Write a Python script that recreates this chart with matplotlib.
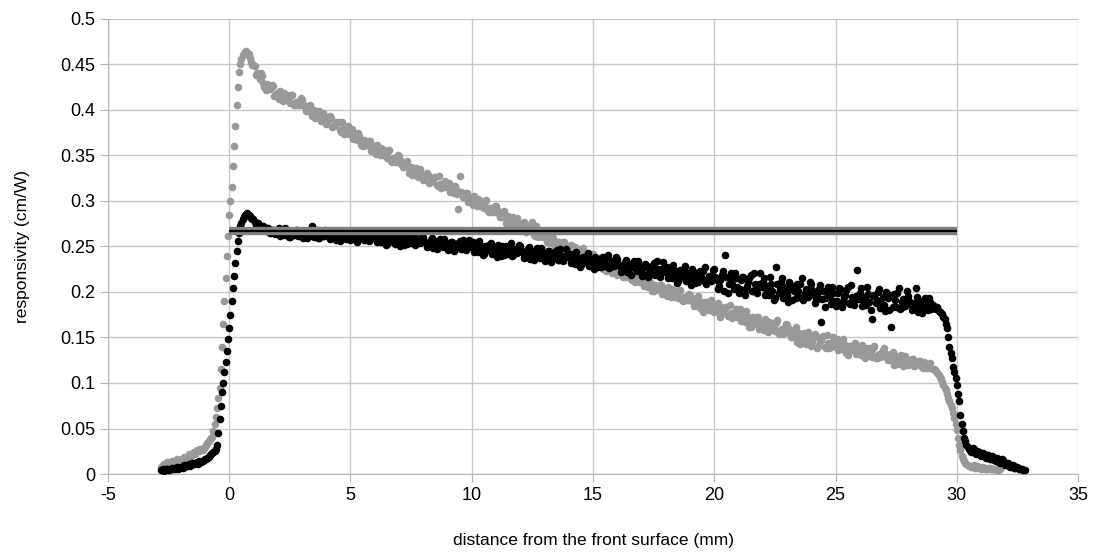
import numpy as np
import matplotlib
matplotlib.use("Agg")
import matplotlib.pyplot as plt

plt.rcParams['font.family'] = ['Liberation Sans', 'DejaVu Sans']

# two scans per sample, every 0.1 mm; the second scan is shifted by 0.05 mm
step = 0.1
scan1_start = -2.8
scan2_start = -2.75

# sample 1 (gray)
gray_scan1 = [
    0.008, 0.011, 0.009, 0.012, 0.010, 0.013, 0.012, 0.014,
    0.016, 0.015, 0.018, 0.020, 0.019, 0.023, 0.022, 0.025, 0.027, 0.026,
    0.030, 0.034, 0.038, 0.041, 0.055, 0.072, 0.095, 0.140, 0.190, 0.240,
    0.285, 0.315, 0.360, 0.405, 0.442, 0.456, 0.462, 0.465, 0.461, 0.453,
    0.449, 0.438, 0.440, 0.441, 0.430, 0.422, 0.428, 0.423, 0.426, 0.416,
    0.415, 0.421, 0.410, 0.414, 0.417, 0.408, 0.417, 0.405, 0.409, 0.406,
    0.411, 0.404, 0.399, 0.404, 0.393, 0.400, 0.394, 0.399, 0.388, 0.393,
    0.385, 0.390, 0.391, 0.382, 0.385, 0.387, 0.376, 0.379, 0.375, 0.382,
    0.377, 0.368, 0.372, 0.375, 0.366, 0.360, 0.366, 0.362, 0.366, 0.357,
    0.356, 0.361, 0.350, 0.353, 0.356, 0.347, 0.356, 0.343, 0.347, 0.343,
    0.349, 0.341, 0.337, 0.341, 0.331, 0.337, 0.332, 0.336, 0.326, 0.330,
    0.323, 0.329, 0.329, 0.321, 0.324, 0.326, 0.316, 0.319, 0.315, 0.322,
    0.318, 0.310, 0.313, 0.317, 0.308, 0.328, 0.309, 0.305, 0.309, 0.300,
    0.300, 0.306, 0.294, 0.298, 0.300, 0.292, 0.301, 0.288, 0.292, 0.288,
    0.294, 0.287, 0.282, 0.287, 0.276, 0.283, 0.278, 0.282, 0.272, 0.276,
    0.269, 0.275, 0.275, 0.267, 0.269, 0.277, 0.262, 0.264, 0.261, 0.267,
    0.263, 0.255, 0.259, 0.262, 0.253, 0.248, 0.255, 0.251, 0.255, 0.246,
    0.246, 0.252, 0.240, 0.244, 0.247, 0.239, 0.248, 0.235, 0.239, 0.236,
    0.242, 0.235, 0.230, 0.235, 0.225, 0.232, 0.227, 0.231, 0.221, 0.226,
    0.219, 0.225, 0.225, 0.217, 0.220, 0.223, 0.213, 0.215, 0.212, 0.219,
    0.215, 0.207, 0.211, 0.215, 0.206, 0.201, 0.207, 0.203, 0.208, 0.199,
    0.199, 0.205, 0.194, 0.198, 0.201, 0.193, 0.202, 0.190, 0.194, 0.191,
    0.197, 0.190, 0.186, 0.192, 0.182, 0.189, 0.184, 0.189, 0.180, 0.185,
    0.178, 0.184, 0.185, 0.177, 0.180, 0.184, 0.174, 0.177, 0.174, 0.181,
    0.178, 0.168, 0.173, 0.179, 0.167, 0.162, 0.172, 0.167, 0.173, 0.162,
    0.162, 0.170, 0.156, 0.162, 0.166, 0.157, 0.169, 0.154, 0.159, 0.156,
    0.164, 0.155, 0.150, 0.158, 0.145, 0.155, 0.148, 0.155, 0.143, 0.150,
    0.141, 0.150, 0.152, 0.142, 0.147, 0.152, 0.139, 0.144, 0.140, 0.151,
    0.146, 0.136, 0.142, 0.148, 0.137, 0.131, 0.141, 0.137, 0.144, 0.133,
    0.133, 0.142, 0.128, 0.134, 0.139, 0.129, 0.141, 0.127, 0.132, 0.130,
    0.138, 0.129, 0.125, 0.132, 0.120, 0.130, 0.123, 0.131, 0.119, 0.126,
    0.120, 0.125, 0.126, 0.120, 0.122, 0.124, 0.117, 0.119, 0.117, 0.122,
    0.115, 0.114, 0.111, 0.107, 0.101, 0.095, 0.088, 0.080, 0.072, 0.062,
    0.048, 0.032, 0.020, 0.014, 0.011, 0.009, 0.008, 0.010, 0.007, 0.008,
    0.006, 0.008, 0.005, 0.007, 0.006, 0.005, 0.006, 0.004, 0.005,
]

gray_scan2 = [
    0.010, 0.009, 0.013, 0.011, 0.014, 0.012, 0.016, 0.015,
    0.017, 0.019, 0.018, 0.022, 0.021, 0.024, 0.026, 0.025, 0.028, 0.029,
    0.032, 0.036, 0.040, 0.047, 0.063, 0.083, 0.115, 0.165, 0.215, 0.262,
    0.300, 0.338, 0.382, 0.425, 0.450, 0.460, 0.464, 0.463, 0.457, 0.449,
    0.448, 0.441, 0.434, 0.437, 0.425, 0.429, 0.423, 0.427, 0.415, 0.419,
    0.412, 0.418, 0.419, 0.411, 0.413, 0.416, 0.406, 0.409, 0.406, 0.413,
    0.407, 0.399, 0.402, 0.406, 0.396, 0.391, 0.397, 0.393, 0.397, 0.388,
    0.387, 0.393, 0.381, 0.385, 0.387, 0.378, 0.387, 0.374, 0.378, 0.374,
    0.379, 0.372, 0.367, 0.371, 0.361, 0.367, 0.362, 0.366, 0.355, 0.360,
    0.352, 0.358, 0.358, 0.350, 0.352, 0.355, 0.344, 0.347, 0.343, 0.350,
    0.345, 0.337, 0.340, 0.344, 0.334, 0.329, 0.335, 0.331, 0.335, 0.326,
    0.325, 0.331, 0.320, 0.323, 0.326, 0.318, 0.327, 0.314, 0.318, 0.315,
    0.320, 0.313, 0.309, 0.313, 0.291, 0.310, 0.304, 0.309, 0.299, 0.303,
    0.296, 0.302, 0.302, 0.294, 0.297, 0.299, 0.289, 0.292, 0.288, 0.295,
    0.290, 0.282, 0.286, 0.289, 0.280, 0.274, 0.281, 0.277, 0.281, 0.272,
    0.271, 0.277, 0.266, 0.269, 0.272, 0.263, 0.272, 0.260, 0.263, 0.260,
    0.265, 0.258, 0.254, 0.259, 0.249, 0.255, 0.250, 0.255, 0.245, 0.250,
    0.242, 0.248, 0.249, 0.241, 0.243, 0.246, 0.236, 0.239, 0.236, 0.242,
    0.238, 0.230, 0.234, 0.238, 0.228, 0.223, 0.230, 0.226, 0.231, 0.221,
    0.221, 0.227, 0.216, 0.220, 0.222, 0.214, 0.223, 0.211, 0.215, 0.211,
    0.218, 0.211, 0.206, 0.211, 0.201, 0.208, 0.203, 0.208, 0.198, 0.202,
    0.196, 0.202, 0.203, 0.195, 0.198, 0.201, 0.191, 0.194, 0.191, 0.198,
    0.195, 0.185, 0.190, 0.196, 0.184, 0.178, 0.189, 0.184, 0.191, 0.179,
    0.179, 0.188, 0.173, 0.179, 0.183, 0.174, 0.186, 0.171, 0.176, 0.173,
    0.181, 0.172, 0.167, 0.174, 0.162, 0.172, 0.165, 0.172, 0.159, 0.166,
    0.158, 0.166, 0.167, 0.158, 0.162, 0.166, 0.154, 0.158, 0.154, 0.165,
    0.160, 0.150, 0.155, 0.161, 0.149, 0.143, 0.154, 0.149, 0.156, 0.144,
    0.145, 0.154, 0.139, 0.146, 0.150, 0.140, 0.153, 0.138, 0.144, 0.141,
    0.148, 0.141, 0.137, 0.143, 0.133, 0.141, 0.136, 0.141, 0.132, 0.137,
    0.131, 0.137, 0.138, 0.131, 0.134, 0.138, 0.128, 0.131, 0.129, 0.136,
    0.133, 0.125, 0.129, 0.134, 0.125, 0.121, 0.128, 0.124, 0.130, 0.121,
    0.122, 0.126, 0.119, 0.121, 0.124, 0.118, 0.123, 0.116, 0.119, 0.116,
    0.115, 0.113, 0.109, 0.104, 0.098, 0.092, 0.084, 0.076, 0.067, 0.055,
    0.040, 0.026, 0.017, 0.012, 0.010, 0.009, 0.008, 0.007, 0.009, 0.007,
    0.007, 0.006, 0.005, 0.007, 0.005, 0.006, 0.004, 0.005,
]

# sample 2 (black)
black_scan1 = [
    0.004, 0.003, 0.005, 0.004, 0.006, 0.005, 0.007, 0.006,
    0.008, 0.007, 0.009, 0.010, 0.009, 0.011, 0.012, 0.011, 0.013, 0.014,
    0.016, 0.018, 0.021, 0.023, 0.025, 0.032, 0.060, 0.090, 0.112, 0.135,
    0.160, 0.190, 0.218, 0.245, 0.265, 0.276, 0.282, 0.286, 0.285, 0.281,
    0.280, 0.274, 0.276, 0.270, 0.272, 0.267, 0.270, 0.265, 0.268, 0.264,
    0.267, 0.261, 0.266, 0.270, 0.263, 0.260, 0.266, 0.264, 0.268, 0.262,
    0.261, 0.267, 0.259, 0.263, 0.273, 0.260, 0.268, 0.259, 0.264, 0.262,
    0.267, 0.262, 0.259, 0.265, 0.257, 0.264, 0.260, 0.265, 0.258, 0.263,
    0.257, 0.263, 0.265, 0.258, 0.262, 0.265, 0.257, 0.261, 0.259, 0.266,
    0.262, 0.255, 0.260, 0.264, 0.257, 0.253, 0.261, 0.258, 0.263, 0.256,
    0.255, 0.262, 0.252, 0.257, 0.261, 0.254, 0.263, 0.253, 0.258, 0.256,
    0.260, 0.254, 0.251, 0.257, 0.248, 0.256, 0.252, 0.258, 0.249, 0.255,
    0.246, 0.253, 0.255, 0.248, 0.252, 0.256, 0.247, 0.251, 0.249, 0.257,
    0.253, 0.244, 0.250, 0.256, 0.247, 0.242, 0.251, 0.248, 0.254, 0.245,
    0.244, 0.252, 0.240, 0.246, 0.251, 0.242, 0.254, 0.241, 0.247, 0.245,
    0.250, 0.243, 0.239, 0.247, 0.236, 0.245, 0.241, 0.248, 0.237, 0.244,
    0.234, 0.242, 0.245, 0.236, 0.241, 0.246, 0.235, 0.240, 0.238, 0.247,
    0.241, 0.232, 0.238, 0.244, 0.235, 0.230, 0.239, 0.236, 0.243, 0.233,
    0.231, 0.239, 0.227, 0.233, 0.238, 0.229, 0.241, 0.228, 0.234, 0.232,
    0.236, 0.229, 0.225, 0.233, 0.222, 0.231, 0.227, 0.234, 0.223, 0.230,
    0.218, 0.228, 0.230, 0.221, 0.226, 0.232, 0.220, 0.225, 0.222, 0.233,
    0.226, 0.215, 0.223, 0.230, 0.218, 0.212, 0.224, 0.220, 0.229, 0.216,
    0.214, 0.225, 0.210, 0.217, 0.223, 0.213, 0.228, 0.211, 0.218, 0.216,
    0.225, 0.213, 0.207, 0.219, 0.201, 0.217, 0.209, 0.221, 0.203, 0.215,
    0.199, 0.213, 0.217, 0.203, 0.211, 0.219, 0.201, 0.209, 0.205, 0.221,
    0.211, 0.197, 0.207, 0.217, 0.201, 0.193, 0.209, 0.203, 0.215, 0.199,
    0.197, 0.211, 0.191, 0.201, 0.209, 0.195, 0.215, 0.193, 0.203, 0.199,
    0.209, 0.197, 0.191, 0.203, 0.167, 0.201, 0.193, 0.205, 0.187, 0.199,
    0.185, 0.199, 0.203, 0.189, 0.197, 0.205, 0.187, 0.195, 0.191, 0.224,
    0.199, 0.185, 0.195, 0.205, 0.189, 0.170, 0.197, 0.191, 0.203, 0.187,
    0.186, 0.200, 0.180, 0.162, 0.198, 0.184, 0.204, 0.182, 0.192, 0.188,
    0.196, 0.187, 0.183, 0.204, 0.178, 0.190, 0.184, 0.193, 0.180, 0.189,
    0.186, 0.182, 0.183, 0.178, 0.176, 0.170, 0.160, 0.140, 0.128, 0.112,
    0.098, 0.080, 0.055, 0.040, 0.032, 0.028, 0.024, 0.027, 0.022, 0.024,
    0.020, 0.023, 0.018, 0.021, 0.016, 0.019, 0.014, 0.017, 0.012, 0.015,
    0.010, 0.012, 0.008, 0.010, 0.007, 0.008, 0.005, 0.006, 0.004,
]

black_scan2 = [
    0.005, 0.004, 0.006, 0.005, 0.007, 0.006, 0.008, 0.007,
    0.008, 0.010, 0.009, 0.011, 0.012, 0.011, 0.013, 0.014, 0.013, 0.015,
    0.017, 0.019, 0.022, 0.024, 0.027, 0.045, 0.075, 0.100, 0.123, 0.148,
    0.175, 0.204, 0.232, 0.256, 0.272, 0.280, 0.285, 0.287, 0.283, 0.280,
    0.277, 0.276, 0.272, 0.273, 0.269, 0.270, 0.267, 0.268, 0.265, 0.267,
    0.270, 0.265, 0.263, 0.267, 0.260, 0.266, 0.263, 0.268, 0.261, 0.265,
    0.259, 0.265, 0.267, 0.261, 0.264, 0.268, 0.259, 0.263, 0.261, 0.268,
    0.265, 0.258, 0.263, 0.267, 0.260, 0.256, 0.264, 0.261, 0.266, 0.259,
    0.258, 0.265, 0.255, 0.260, 0.264, 0.257, 0.266, 0.256, 0.261, 0.259,
    0.264, 0.258, 0.255, 0.261, 0.252, 0.260, 0.256, 0.262, 0.253, 0.259,
    0.251, 0.258, 0.260, 0.253, 0.257, 0.261, 0.252, 0.256, 0.254, 0.262,
    0.256, 0.249, 0.254, 0.259, 0.251, 0.247, 0.255, 0.252, 0.258, 0.250,
    0.248, 0.255, 0.245, 0.250, 0.254, 0.247, 0.257, 0.246, 0.251, 0.249,
    0.255, 0.248, 0.244, 0.252, 0.241, 0.250, 0.246, 0.253, 0.242, 0.249,
    0.239, 0.247, 0.250, 0.241, 0.246, 0.251, 0.240, 0.245, 0.243, 0.252,
    0.246, 0.237, 0.243, 0.249, 0.240, 0.235, 0.244, 0.241, 0.248, 0.238,
    0.237, 0.245, 0.233, 0.239, 0.244, 0.235, 0.247, 0.234, 0.240, 0.238,
    0.242, 0.235, 0.231, 0.239, 0.228, 0.237, 0.233, 0.240, 0.229, 0.236,
    0.225, 0.233, 0.236, 0.227, 0.232, 0.237, 0.226, 0.231, 0.229, 0.238,
    0.231, 0.222, 0.228, 0.235, 0.224, 0.219, 0.230, 0.226, 0.234, 0.223,
    0.220, 0.231, 0.216, 0.223, 0.229, 0.219, 0.234, 0.217, 0.225, 0.222,
    0.228, 0.219, 0.215, 0.224, 0.210, 0.222, 0.216, 0.225, 0.212, 0.221,
    0.208, 0.218, 0.221, 0.211, 0.217, 0.223, 0.209, 0.215, 0.212, 0.224,
    0.217, 0.203, 0.213, 0.223, 0.241, 0.199, 0.215, 0.209, 0.221, 0.205,
    0.203, 0.217, 0.197, 0.207, 0.215, 0.201, 0.221, 0.199, 0.209, 0.205,
    0.215, 0.203, 0.197, 0.209, 0.191, 0.228, 0.199, 0.211, 0.193, 0.205,
    0.189, 0.203, 0.207, 0.193, 0.201, 0.209, 0.191, 0.199, 0.195, 0.211,
    0.202, 0.188, 0.198, 0.208, 0.192, 0.184, 0.200, 0.194, 0.206, 0.190,
    0.190, 0.204, 0.184, 0.194, 0.202, 0.188, 0.208, 0.186, 0.196, 0.192,
    0.204, 0.192, 0.186, 0.198, 0.180, 0.196, 0.188, 0.200, 0.182, 0.194,
    0.179, 0.193, 0.197, 0.183, 0.191, 0.199, 0.181, 0.189, 0.185, 0.201,
    0.190, 0.180, 0.188, 0.195, 0.183, 0.177, 0.189, 0.184, 0.193, 0.181,
    0.184, 0.181, 0.179, 0.177, 0.173, 0.165, 0.150, 0.133, 0.118, 0.105,
    0.088, 0.065, 0.047, 0.036, 0.030, 0.026, 0.029, 0.023, 0.025, 0.021,
    0.022, 0.019, 0.021, 0.017, 0.020, 0.015, 0.018, 0.013, 0.016, 0.012,
    0.011, 0.009, 0.010, 0.007, 0.008, 0.006, 0.005, 0.004,
]

# reference level over the detector thickness
level_x = [0, 30]
level_y = [0.267, 0.267]

x_ticks = [-5, 0, 5, 10, 15, 20, 25, 30, 35]
y_ticks = [0, 0.05, 0.1, 0.15, 0.2, 0.25, 0.3, 0.35, 0.4, 0.45, 0.5]
y_tick_labels = ["0", "0.05", "0.1", "0.15", "0.2", "0.25", "0.3",
                 "0.35", "0.4", "0.45", "0.5"]


def positions(start, values):
    return start + step * np.arange(len(values))


def plot_figure():
    fig = plt.figure(figsize=(10.93, 5.52), dpi=100)
    ax = fig.add_axes([0.0988, 0.1413, 0.8875, 0.8243])

    for start, vals in [(scan1_start, gray_scan1), (scan2_start, gray_scan2)]:
        ax.scatter(positions(start, vals), vals, s=30, color="#999999",
                   linewidths=0, zorder=3)
    for start, vals in [(scan1_start, black_scan1), (scan2_start, black_scan2)]:
        ax.scatter(positions(start, vals), vals, s=30, color="#000000",
                   linewidths=0, zorder=4)

    ax.plot(level_x, level_y, color="#808080", linewidth=6, solid_capstyle="butt", zorder=5)
    ax.plot(level_x, level_y, color="#000000", linewidth=1.6, solid_capstyle="butt", zorder=6)

    ax.set_xlim(-5, 35)
    ax.set_ylim(0, 0.5)
    ax.set_xticks(x_ticks)
    ax.set_xticklabels([str(v) for v in x_ticks])
    ax.set_yticks(y_ticks)
    ax.set_yticklabels(y_tick_labels)
    ax.grid(True, color="#c8c8c8", linewidth=1.0, zorder=0)
    ax.set_axisbelow(True)
    for side in ["top", "right"]:
        ax.spines[side].set_visible(False)
    for side in ["left", "bottom"]:
        ax.spines[side].set_color("#b3b3b3")
    ax.tick_params(direction="out", length=6, color="#b3b3b3",
                   labelsize=13, labelcolor="#000000", pad=3)

    ax.set_xlabel("distance from the front surface (mm)", fontsize=12.5, labelpad=21)
    ax.set_ylabel("responsivity (cm/W)", fontsize=12.5, labelpad=22)

    fig.savefig("out.png", dpi=100)


if __name__ == '__main__':
    plot_figure()
